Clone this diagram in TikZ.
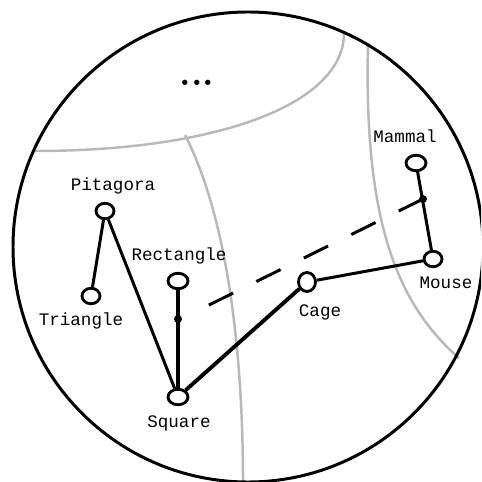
\documentclass[tikz,border=0pt]{standalone}
\usepackage{fontspec}
\setmonofont{Liberation Mono}
\usetikzlibrary{shapes.geometric}

\begin{document}
\begin{tikzpicture}[x=.02cm,y=-.02cm,
  obj/.style={draw,ellipse,fill=white,line width=1.6pt,inner sep=0pt,
    minimum width=.36cm,minimum height=.31cm},
  lbl/.style={font=\ttfamily\fontsize{10}{12}\selectfont},
  rel/.style={line width=1.7pt},
  strong/.style={line width=2.2pt},
  region/.style={black!28,line width=1.4pt}]
\useasboundingbox (0,0) rectangle (481,482);
\begin{scope}
\clip (0,0) rectangle (481,482);
% regions of the space
\draw[region] (35,151) .. controls (215,151) and (344,105) .. (344,33);
\draw[region] (185,135) .. controls (226,215) and (243,345) .. (243,484);
\draw[region] (368,43) .. controls (364,210) and (392,300) .. (459,358);
\draw[line width=1.7pt] (248,247) circle (235);
\end{scope}
\node[anchor=base,inner sep=0pt,font=\rmfamily\bfseries\fontsize{21}{21}\selectfont]
  (more) at (197,86) {...};
% objects
\node[obj] (pit) at (105,211) {};
\node[obj] (tri) at (91,296) {};
\node[obj,minimum width=.4cm] (rect) at (178,281) {};
\node[obj,minimum width=.4cm] (sq) at (178,397) {};
\node[obj,minimum width=.34cm,minimum height=.38cm] (cage) at (307,282) {};
\node[obj] (mouse) at (433,259) {};
\node[obj,minimum width=.4cm] (mam) at (416,163) {};
\node[lbl] (lpit) at (113,186) {Pitagora};
\node[lbl] (ltri) at (81,321) {Triangle};
\node[lbl] (lrect) at (179,256) {Rectangle};
\node[lbl] (lsq) at (179,423) {Square};
\node[lbl] (lcage) at (320,312) {Cage};
\node[lbl] (lmouse) at (446,283) {Mouse};
\node[lbl] (lmam) at (405,136) {Mammal};
% relations
\draw[rel] (pit)--(tri);
\draw[rel] (pit)--(sq);
\draw[strong] (rect)--(sq);
\draw[strong] (sq)--(cage);
\draw[rel] (cage)--(mouse);
\draw[rel] (mam)--(mouse);
\coordinate (rdot) at (178,319);
\coordinate (mdot) at (423,199);
\coordinate (dend) at (207,306);
\fill (rdot) circle (4);
\fill (mdot) circle (4);
\draw[rel,dash pattern=on .54cm off .52cm] (mdot)--(dend);
\end{tikzpicture}
\end{document}
